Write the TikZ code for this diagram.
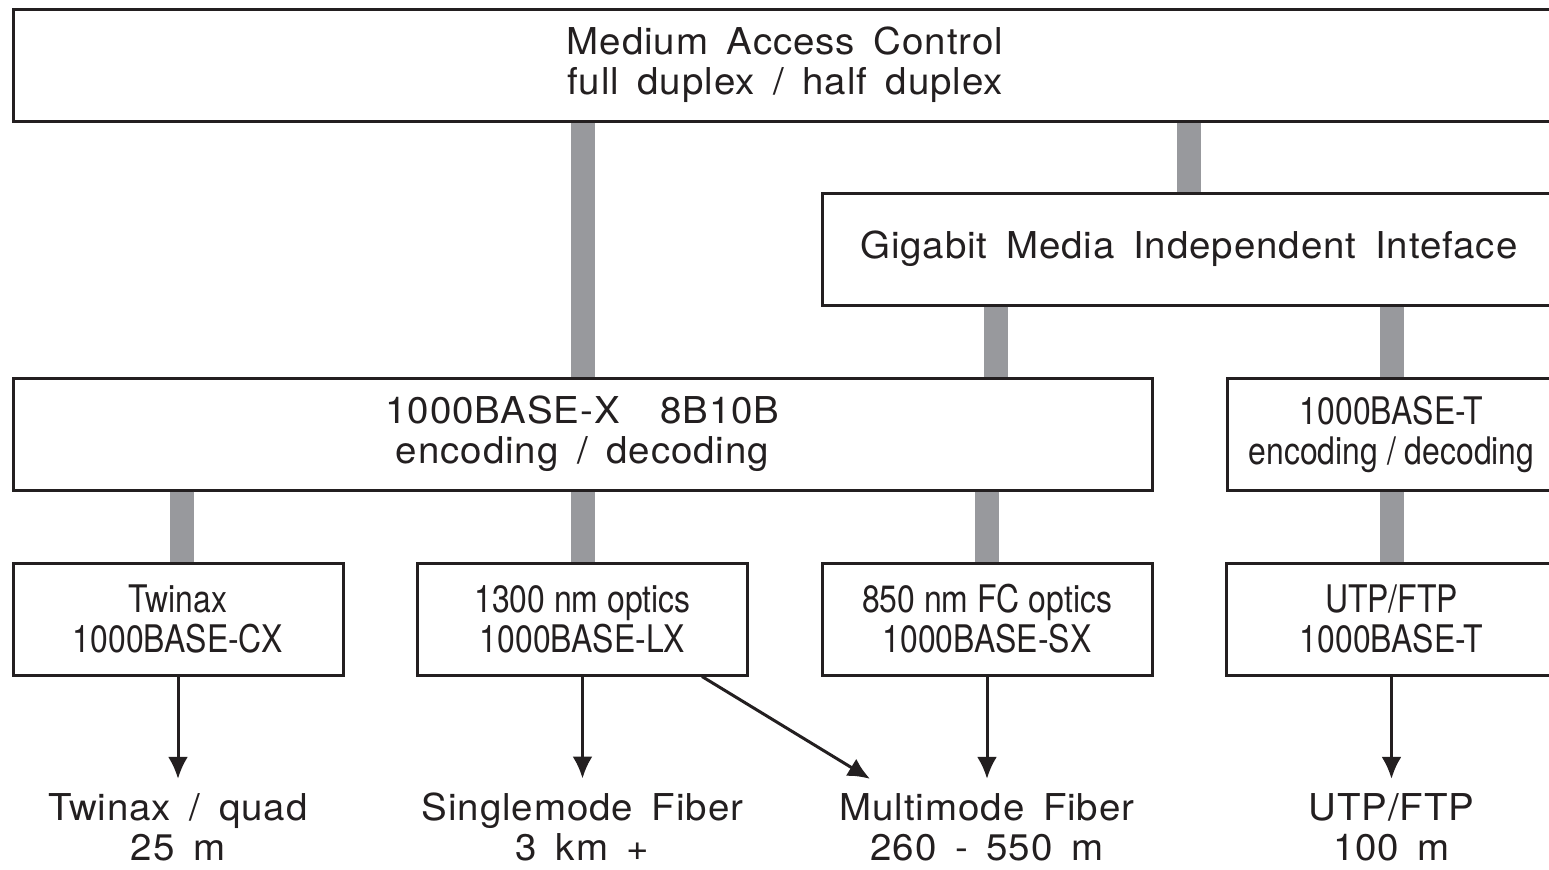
\documentclass[tikz,border=0pt]{standalone}
\usepackage{fontspec}
\setmainfont{TeX Gyre Heros}[FakeStretch=1.04, LetterSpace=2.5, WordSpace=1.6]
\newfontfamily\narrowfont{TeX Gyre Heros}[FakeStretch=0.84]
\usetikzlibrary{arrows.meta}
\definecolor{barcol}{RGB}{152,153,157}
\definecolor{ink}{RGB}{35,31,32}
\begin{document}
\begin{tikzpicture}[x=0.5pt, y=-0.5pt,
    box/.style={draw=ink, text=ink, line width=1.5pt, minimum height=56pt, inner sep=0pt, align=center,
      font=\fontsize{18.5}{20}\selectfont},
    smallbox/.style={box, minimum width=165pt, font=\narrowfont\fontsize{19}{20}\selectfont},
    media/.style={text=ink, align=center, inner xsep=4pt, inner ysep=7pt, font=\fontsize{18.5}{20}\selectfont},
    bar/.style={line width=12pt, draw=barcol},
    arr/.style={draw=ink, line width=1.5pt, -{Latex[length=11pt,width=10pt]}}]
    \useasboundingbox (0,0) rectangle (1549,869);
    \clip (0,0) rectangle (1549,869);
    % layers
    \node[box, minimum width=772pt] (mac) at (785,65) {Medium Access Control\\full duplex / half duplex};
    \node[box, minimum width=367pt] (gmii) at (1189,249) {Gigabit Media Independent Inteface};
    \node[box, minimum width=569.5pt] (bx) at (582.5,434) {1000BASE-X\hspace{1.1em}8B10B\\encoding / decoding};
    \node[smallbox, minimum width=164.5pt] (bt) at (1391.5,434) {1000BASE-T\\encoding / decoding};
    % physical media dependent
    \node[smallbox] (cx) at (178,619) {Twinax\\1000BASE-CX};
    \node[smallbox] (lx) at (582.5,619) {1300 nm optics\\1000BASE-LX};
    \node[smallbox] (sx) at (987,619) {850 nm FC optics\\1000BASE-SX};
    \node[smallbox] (tp) at (1391.5,619) {UTP/FTP\\1000BASE-T};
    % media
    \node[media] (twinax) at (178,827) {Twinax / quad\\25 m};
    \node[media] (smf) at (582.5,827) {Singlemode Fiber\\3 km +};
    \node[media] (mmf) at (987,827) {Multimode Fiber\\260 - 550 m};
    \node[media] (utp) at (1391.5,827) {UTP/FTP\\100 m};
    % gray links
    \coordinate (gx) at (996,0);
    \coordinate (cxx) at (182,0);
    \draw[bar] (bx.north) -- (bx.north |- mac.south);
    \draw[bar] (gmii.north) -- (gmii.north |- mac.south);
    \draw[bar] (gx |- gmii.south) -- (gx |- bx.north);
    \draw[bar] (bt.north) -- (bt.north |- gmii.south);
    \draw[bar] (cxx |- bx.south) -- (cxx |- cx.north);
    \draw[bar] (lx.north) -- (lx.north |- bx.south);
    \draw[bar] (sx.north) -- (sx.north |- bx.south);
    \draw[bar] (tp.north) -- (bt.south);
    % arrows
    \draw[arr] (cx) -- (twinax);
    \draw[arr] (lx) -- (smf);
    \draw[arr] ([xshift=-23.5pt]lx.south east) -- ([xshift=-58.5pt]mmf.north);
    \draw[arr] (sx) -- (mmf);
    \draw[arr] (tp) -- (utp);
\end{tikzpicture}
\end{document}
